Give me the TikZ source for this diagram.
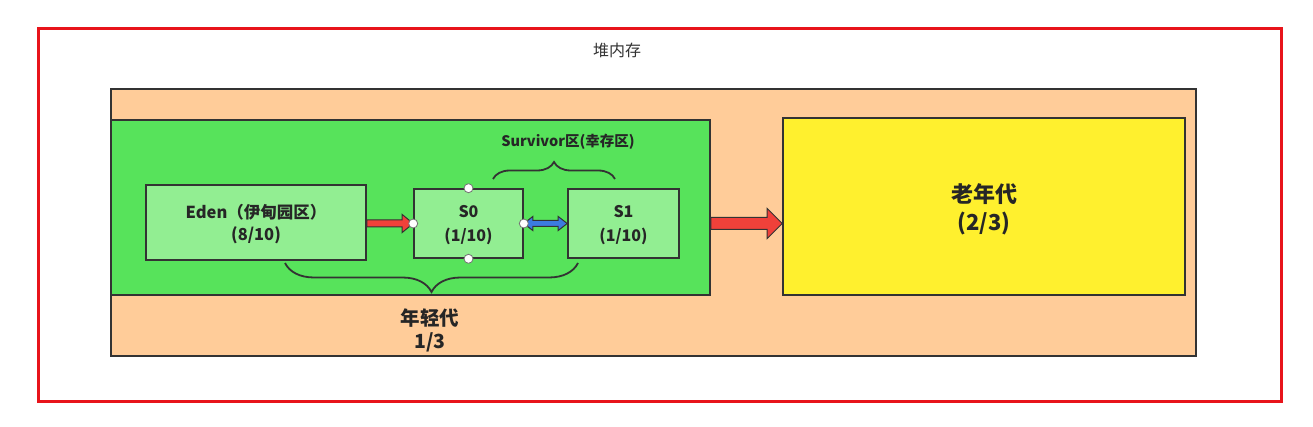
\documentclass[tikz,border=0pt]{standalone}
\usepackage{fontspec}
\setmainfont{Noto Sans CJK SC}
\usetikzlibrary{calc,decorations.pathreplacing}
\definecolor{heapred}{HTML}{E8141B}
\definecolor{peach}{HTML}{FFCC99}
\definecolor{grn}{HTML}{57E35B}
\definecolor{lgrn}{HTML}{92EE92}
\definecolor{yel}{HTML}{FFF02E}
\definecolor{edge}{HTML}{333333}
\definecolor{arrred}{HTML}{F0413A}
\definecolor{arrblue}{HTML}{3C7BE0}
\tikzset{
  area/.style={draw=edge, line width=1.6pt, inner sep=0pt},
  txt/.style={text=black!85, font=\bfseries, align=center},
  boxtxt/.style={txt, font=\fontsize{16}{24}\selectfont\bfseries},
  dot/.style={circle, draw=black!55, fill=white, line width=0.8pt, minimum size=9pt, inner sep=0pt},
  fatarrow/.style={draw=edge, line width=1pt, fill=#1, line join=miter},
  bracestyle/.style={draw=edge, line width=1.8pt, decorate, decoration={brace, amplitude=#1}},
}
\begin{document}
\begin{tikzpicture}[x=1pt,y=-1pt]
\useasboundingbox (0,0) rectangle (1313,427);
\fill[white] (0,0) rectangle (1313,427);
% outer heap
\node[draw=heapred, line width=3pt, minimum width=1243pt, minimum height=372pt, inner sep=0pt] (heap) at (659.5,215) {};
\node[font=\fontsize{16}{18}\selectfont, text=black!80] (heaplabel) at (617,50) {堆内存};
% orange area
\node[area, fill=peach, minimum width=1085pt, minimum height=267pt] (old) at (653.5,222.5) {};
% green young area
\node[area, fill=grn, minimum width=599pt, minimum height=175pt] (young) at (410.5,207.5) {};
% yellow old gen
\node[area, fill=yel, minimum width=402pt, minimum height=177pt] (tenured) at (984,206.5) {};
\node[txt, font=\fontsize{22}{28}\selectfont\bfseries] (tenuredtext) at ($(tenured)+(0,3)$) {老年代\\(2/3)};
% eden, s0, s1
\node[area, fill=lgrn, minimum width=220pt, minimum height=75pt] (eden) at (256,222.5) {};
\node[txt, font=\fontsize{16.5}{22}\selectfont\bfseries] (edentext) at ($(eden)+(0,2)$) {Eden（伊甸园区）\\(8/10)};
\node[area, fill=lgrn, minimum width=109pt, minimum height=69pt] (s0) at (468.5,223.5) {};
\node[boxtxt] (s0text) at ($(s0)+(0,2)$) {S0\\(1/10)};
\node[area, fill=lgrn, minimum width=111pt, minimum height=69pt] (s1) at (623.5,223.5) {};
\node[boxtxt] (s1text) at ($(s1)+(0,2)$) {S1\\(1/10)};
% labels
\node[txt, font=\fontsize{14.5}{17}\selectfont\bfseries] (survlabel) at (568,142) {Survivor区(幸存区)};
\node[txt, font=\fontsize{19.5}{23}\selectfont\bfseries] (younglabel) at (430,330) {年轻代\\1/3};
% braces
\coordinate (bb1) at (285,263);
\coordinate (bb2) at (578,263);
\draw[bracestyle=29pt] (bb2) -- (bb1);
\coordinate (tb1) at (493,179);
\coordinate (tb2) at (615,179);
\draw[bracestyle=17pt] (tb1) -- (tb2);
% red arrow eden -> s0
\coordinate (r1s) at (eden.east |- s0.west);
\draw[fatarrow=arrred] ($(r1s)+(0,-3.5)$) -- ($(s0.west)+(-11,-3.5)$) -- ($(s0.west)+(-11,-9)$) -- (s0.west) -- ($(s0.west)+(-11,9)$) -- ($(s0.west)+(-11,3.5)$) -- ($(r1s)+(0,3.5)$) -- cycle;
% blue double arrow s0 <-> s1
\draw[fatarrow=arrblue] (s0.east) -- ($(s0.east)+(9,-7)$) -- ($(s0.east)+(9,-3)$) -- ($(s1.west)+(-9,-3)$) -- ($(s1.west)+(-9,-7)$) -- (s1.west) -- ($(s1.west)+(-9,7)$) -- ($(s1.west)+(-9,3)$) -- ($(s0.east)+(9,3)$) -- ($(s0.east)+(9,7)$) -- cycle;
% big red arrow young -> tenured
\coordinate (bgs) at (young.east |- s0.west);
\coordinate (bge) at (tenured.west |- s0.west);
\draw[fatarrow=arrred] ($(bgs)+(0,-6)$) -- ($(bge)+(-15,-6)$) -- ($(bge)+(-15,-15)$) -- (bge) -- ($(bge)+(-15,15)$) -- ($(bge)+(-15,6)$) -- ($(bgs)+(0,6)$) -- cycle;
% handle dots on s0
\node[dot] (d1) at (s0.north) {};
\node[dot] (d2) at (s0.south) {};
\node[dot] (d3) at (s0.west) {};
\node[dot] (d4) at (s0.east) {};
\end{tikzpicture}
\end{document}
